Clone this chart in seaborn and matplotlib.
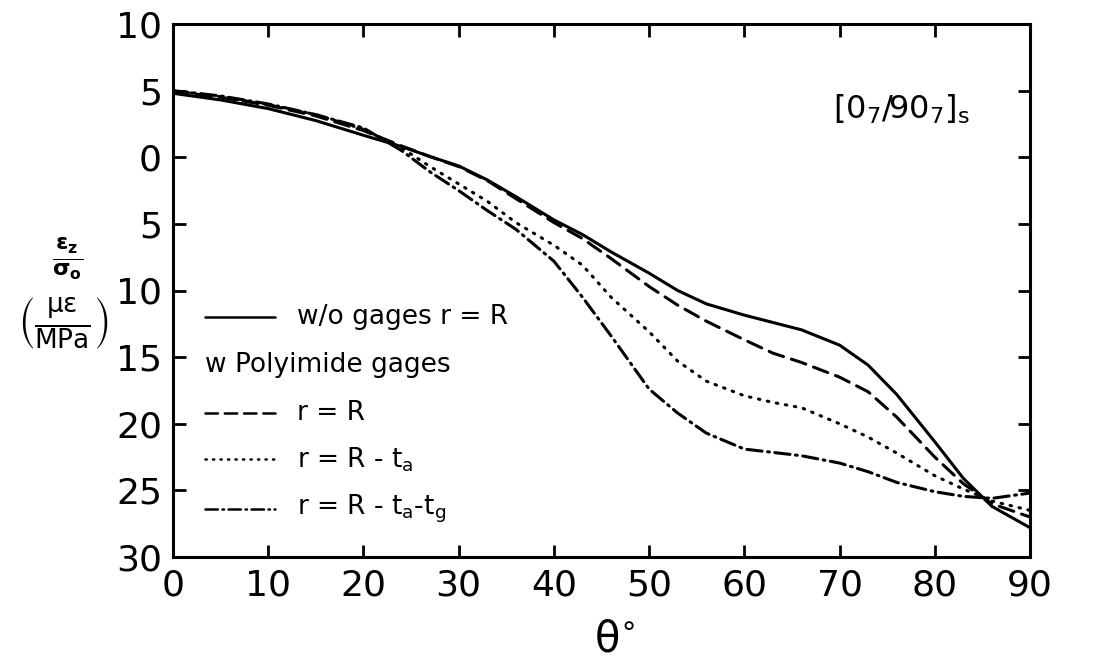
import numpy as np
import pandas as pd
import matplotlib
matplotlib.use("Agg")
import matplotlib.pyplot as plt
from matplotlib.ticker import FuncFormatter
import seaborn as sns

# ---- data ----
theta = [0, 5, 10, 15, 20, 24, 27, 30, 33, 36, 40, 43, 46, 50, 53, 56,
         60, 63, 66, 70, 73, 76, 80, 83, 86, 90]
no_gage = [4.8, 4.3, 3.65, 2.75, 1.65, 0.8, 0.05, -0.65, -1.7, -2.95, -4.7, -5.8,
           -7.1, -8.7, -10.0, -11.0, -11.85, -12.4, -12.95, -14.1, -15.6, -17.8,
           -21.35, -24.1, -26.2, -27.8]
gage_R = [4.95, 4.5, 3.9, 3.1, 2.0, 0.85, 0.05, -0.7, -1.75, -3.1, -4.9, -6.1,
          -7.6, -9.7, -11.1, -12.3, -13.7, -14.7, -15.4, -16.5, -17.6, -19.5,
          -22.5, -24.5, -26.0, -27.0]
gage_R_ta = [5.0, 4.55, 3.95, 3.2, 2.1, 0.7, -0.7, -2.0, -3.3, -4.9, -6.6, -8.1,
             -10.5, -13.1, -15.3, -16.8, -17.9, -18.4, -18.8, -20.0, -21.0,
             -22.2, -23.9, -24.9, -25.8, -26.5]
gage_R_ta_tg = [5.0, 4.6, 4.0, 3.2, 2.2, 0.5, -1.1, -2.5, -4.0, -5.4, -7.8, -10.5,
                -13.4, -17.4, -19.2, -20.7, -21.9, -22.15, -22.4, -22.95, -23.6,
                -24.4, -25.1, -25.45, -25.6, -25.2]

series_labels = ["w/o gages r = R", "r = R", "r = R - t$_a$", "r = R - t$_a$-t$_g$"]
header = "w Polyimide gages"
annotation = "[0$_7$/90$_7$]$_s$"
x_ticks = [0, 10, 20, 30, 40, 50, 60, 70, 80, 90]
y_ticks = [-30, -25, -20, -15, -10, -5, 0, 5, 10]

# ---- style ----
sns.set_style("ticks")
plt.rcParams["font.family"] = ["DejaVu Sans"]
plt.rcParams["mathtext.default"] = "regular"
for k in ["text.color", "axes.labelcolor", "xtick.color", "ytick.color",
          "axes.edgecolor"]:
    plt.rcParams[k] = "black"

fig = plt.figure(figsize=(10.99, 6.66), dpi=100)
ax = fig.add_axes([173 / 1099, 1 - 557 / 666, 857 / 1099, 533 / 666])

lw = 2.2
styles = [
    "-",
    (0, (5, 2.7)),
    (0, (0.5, 2.5)),
    (0, (5, 1.8, 0.6, 1.8)),
]
all_series = [no_gage, gage_R, gage_R_ta, gage_R_ta_tg]
for vals, ls in zip(all_series, styles):
    sns.lineplot(x=theta, y=vals, ax=ax, color="black", lw=lw,
                 linestyle=ls, dash_capstyle="round", solid_capstyle="round",
                 solid_joinstyle="round", dash_joinstyle="round")

ax.set_xlim(0, 90)
ax.set_ylim(-30, 10)
ax.set_xticks(x_ticks)
ax.set_yticks(y_ticks)
ax.yaxis.set_major_formatter(FuncFormatter(lambda v, p: f"{abs(int(v))}"))
ax.tick_params(direction="in", length=9, width=2, top=True, right=True,
               labelsize=26, pad=8, colors="black")
for sp in ax.spines.values():
    sp.set_linewidth(2.2)
    sp.set_color("black")
ax.set_xlabel("")
ax.set_ylabel("")

# ---- manual legend (decoration) ----
rows_y = [0.450, 0.360, 0.270, 0.183, 0.090]
x0, x1, xt = 0.037, 0.119, 0.145
legend_items = [(styles[0], series_labels[0], rows_y[0]),
                (styles[1], series_labels[1], rows_y[2]),
                (styles[2], series_labels[2], rows_y[3]),
                (styles[3], series_labels[3], rows_y[4])]
for ls, lab, yy in legend_items:
    ax.plot([x0, x1], [yy, yy], transform=ax.transAxes, color="black",
            lw=1.8, linestyle=ls, dash_capstyle="round")
    ax.text(xt, yy, lab, transform=ax.transAxes, fontsize=19, va="center",
            ha="left")
ax.text(x0, rows_y[1], header, transform=ax.transAxes, fontsize=19,
        va="center", ha="left")

ax.text(0.77, 0.84, annotation, transform=ax.transAxes, fontsize=23,
        va="center", ha="left")

# axis labels
fig.text(615 / 1099, 1 - 640 / 666, r"$\theta^{\circ}$", fontsize=30,
         ha="center", va="center")
fig.text(68 / 1099, 1 - 259 / 666, r"$\mathbf{\frac{\epsilon_z}{\sigma_o}}$",
         fontsize=23, ha="center", va="center")
fig.text(63 / 1099, 1 - 323 / 666, r"$\left(\frac{\mu\epsilon}{MPa}\right)$",
         fontsize=27, ha="center", va="center")

fig.savefig("out.png", dpi=100)
